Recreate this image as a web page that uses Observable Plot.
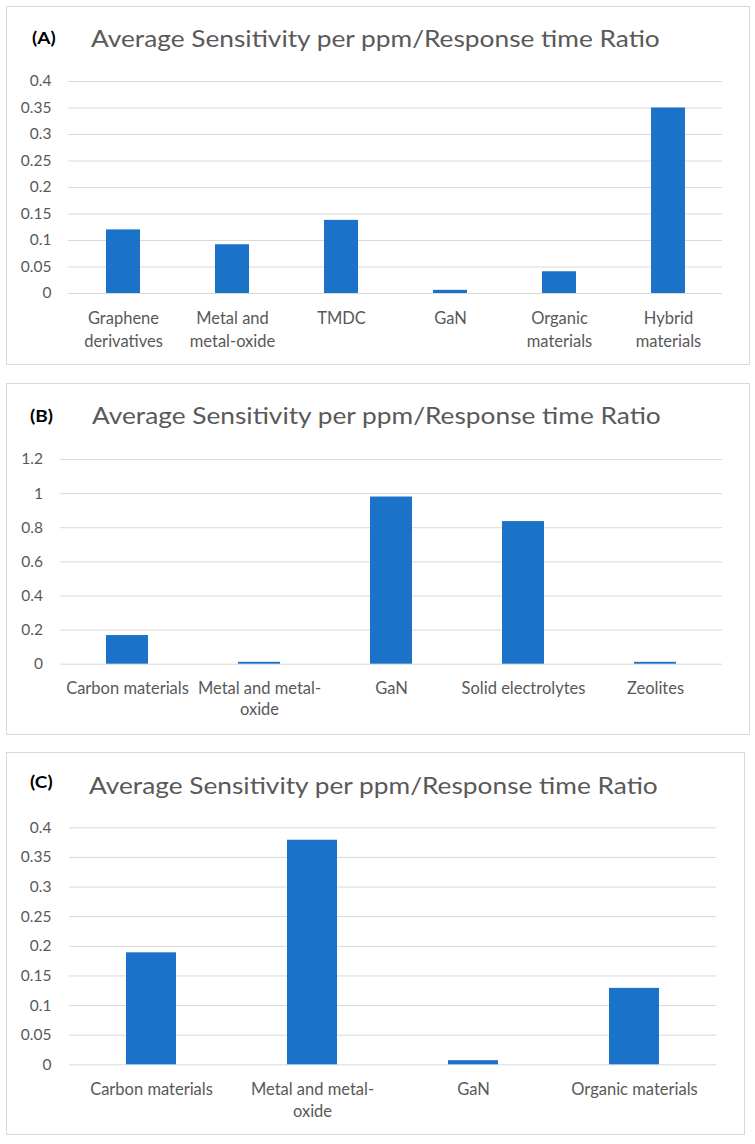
<!DOCTYPE html>
<html><head><meta charset="utf-8">
<script src="https://cdn.jsdelivr.net/npm/d3@7"></script>
<script src="https://cdn.jsdelivr.net/npm/@observablehq/plot@0.6"></script>
<style>
body{margin:0;background:#fff;font-family:Lato,sans-serif;}
#root{position:relative;width:755px;height:1144px;overflow:hidden;background:#fff}
.box{position:absolute;border:1px solid #d9d9d9;box-sizing:border-box}
.lab{position:absolute;font-weight:bold;color:#000;line-height:1;white-space:nowrap;transform-origin:0 50%;transform:scaleX(1.12)}
.ttl{position:absolute;color:#595959;line-height:1;white-space:nowrap;transform-origin:0 50%;transform:scaleX(1.118)}
.plot{position:absolute;left:0}
</style></head><body><div id="root"></div>
<script>
const titleText = "Average Sensitivity per ppm/Response time Ratio";

const catsA = ["Graphene derivatives", "Metal and metal-oxide", "TMDC", "GaN", "Organic materials", "Hybrid materials"];
const labelsA = ["Graphene\nderivatives", "Metal and\nmetal-oxide", "TMDC", "GaN", "Organic\nmaterials", "Hybrid\nmaterials"];
const valuesA = [0.12, 0.092, 0.138, 0.006, 0.041, 0.35];
const ticksA = [0, 0.05, 0.1, 0.15, 0.2, 0.25, 0.3, 0.35, 0.4];

const catsB = ["Carbon materials", "Metal and metal-oxide", "GaN", "Solid electrolytes", "Zeolites"];
const labelsB = ["Carbon materials", "Metal and metal-\noxide", "GaN", "Solid electrolytes", "Zeolites"];
const valuesB = [0.168, 0.011, 0.98, 0.836, 0.011];
const ticksB = [0, 0.2, 0.4, 0.6, 0.8, 1, 1.2];

const catsC = ["Carbon materials", "Metal and metal-oxide", "GaN", "Organic materials"];
const labelsC = ["Carbon materials", "Metal and metal-\noxide", "GaN", "Organic materials"];
const valuesC = [0.189, 0.379, 0.007, 0.129];
const ticksC = [0, 0.05, 0.1, 0.15, 0.2, 0.25, 0.3, 0.35, 0.4];

const root = document.getElementById("root");

function panel(cfg) {
  const box = document.createElement("div");
  box.className = "box";
  Object.assign(box.style, {left: cfg.box[0] + "px", top: cfg.box[1] + "px", width: cfg.box[2] + "px", height: cfg.box[3] + "px"});
  root.appendChild(box);

  const lab = document.createElement("div");
  lab.className = "lab";
  lab.textContent = cfg.tag;
  lab.style.fontSize = "17px";
  lab.style.left = cfg.tagPos[0] + "px";
  lab.style.top = (cfg.tagPos[1] - 0.887 * 17) + "px";
  root.appendChild(lab);

  const ttl = document.createElement("div");
  ttl.className = "ttl";
  ttl.textContent = titleText;
  ttl.style.fontSize = "23.5px";
  ttl.style.left = cfg.titlePos[0] + "px";
  ttl.style.top = (cfg.titlePos[1] - 0.887 * 23.5) + "px";
  root.appendChild(ttl);

  const data = cfg.cats.map((c, i) => ({cat: c, value: cfg.values[i]}));
  const labelOf = new Map(cfg.cats.map((c, i) => [c, cfg.labels[i]]));

  const svg = Plot.plot({
    width: 755,
    height: cfg.h,
    marginTop: cfg.mt,
    marginBottom: cfg.h - cfg.mt - cfg.ph,
    marginLeft: cfg.ml,
    marginRight: 755 - cfg.xr,
    style: {fontFamily: "Lato, sans-serif", fontSize: "15.5px", color: "#595959", background: "transparent", overflow: "visible"},
    x: {domain: cfg.cats, paddingInner: cfg.pad, paddingOuter: cfg.pad / 2, label: null},
    y: {domain: [0, cfg.ticks[cfg.ticks.length - 1]], label: null},
    marks: [
      Plot.gridY(cfg.ticks, {stroke: "#d9d9d9", strokeOpacity: 1, strokeWidth: 1}),
      Plot.barY(data, {x: "cat", y: "value", fill: "#1a73c9"}),
      Plot.axisY({ticks: cfg.ticks, tickSize: 0, tickPadding: cfg.ypad, fontSize: 15.5, tickFormat: d => String(d), label: null}),
      Plot.axisX({tickSize: 0, tickPadding: 14, fontSize: 16.5, lineHeight: cfg.lh, tickFormat: d => labelOf.get(d), label: null})
    ]
  });
  svg.classList.add("plot");
  svg.style.position = "absolute";
  svg.style.left = "0px";
  svg.style.top = cfg.top + "px";
  root.appendChild(svg);
}

panel({tag: "(A)", tagPos: [32, 44], titlePos: [91, 48.3], box: [6, 6, 744, 359],
  cats: catsA, labels: labelsA, values: valuesA, ticks: ticksA,
  top: 60, h: 300, mt: 21, ph: 212, ml: 68, xr: 722, pad: 0.69, ypad: 17, lh: 1.4});

panel({tag: "(B)", tagPos: [30, 422], titlePos: [92, 425], box: [6, 383, 744, 352],
  cats: catsB, labels: labelsB, values: valuesB, ticks: ticksB,
  top: 440, h: 290, mt: 19, ph: 204.7, ml: 60, xr: 722, pad: 0.68, ypad: 17.5, lh: 1.32});

panel({tag: "(C)", tagPos: [30, 788], titlePos: [89, 795], box: [6, 752, 739, 383],
  cats: catsC, labels: labelsC, values: valuesC, ticks: ticksC,
  top: 806, h: 320, mt: 21.3, ph: 237, ml: 69, xr: 716, pad: 0.69, ypad: 18, lh: 1.36});
</script>
</body></html>
